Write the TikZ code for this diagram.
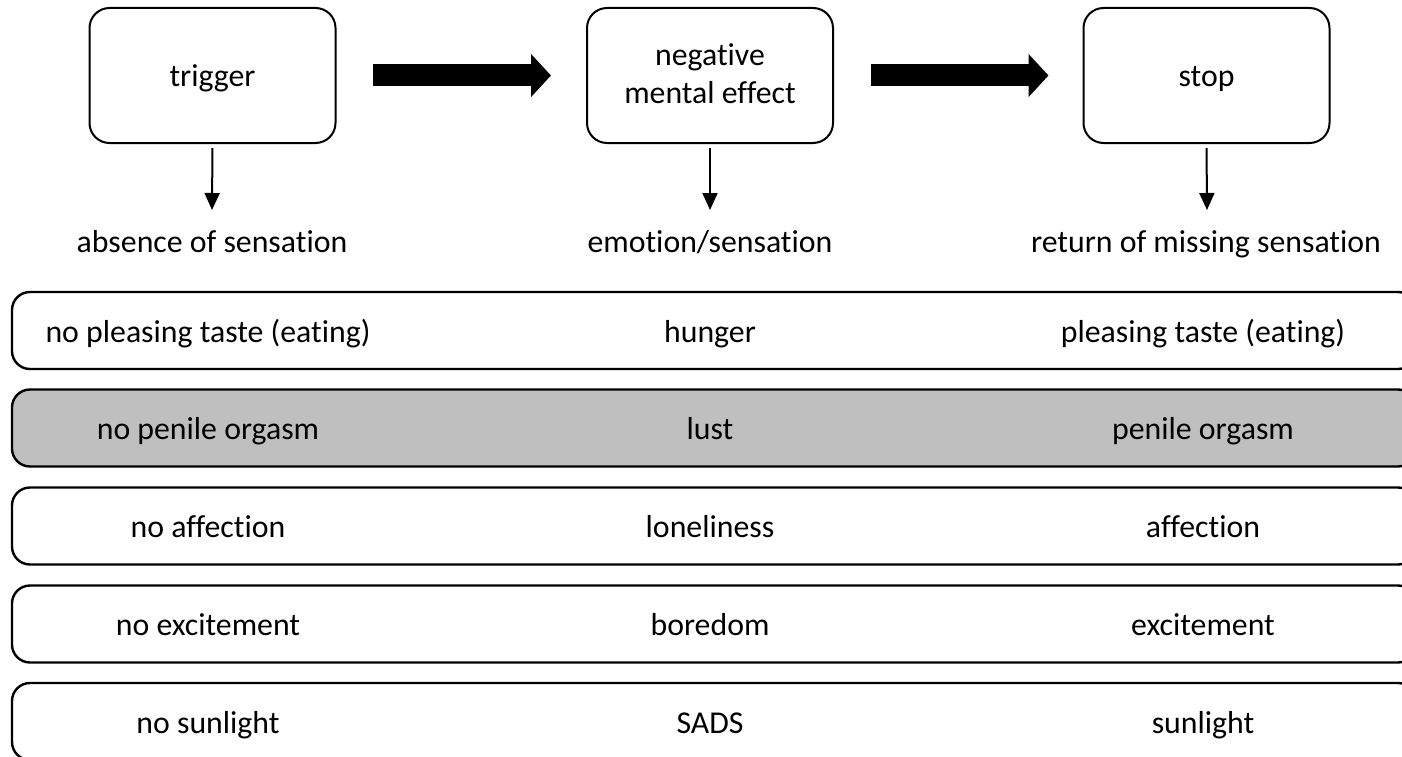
\documentclass[tikz,border=0pt]{standalone}
\usepackage{fontspec}
\setmainfont{Carlito}[Ligatures={NoCommon}]
\usetikzlibrary{arrows.meta}
\definecolor{rowgrey}{RGB}{191,191,191}
\tikzset{
  topbox/.style={draw, line width=2pt, rounded corners=20pt, minimum width=246pt, minimum height=135pt, inner sep=0pt},
  rowbox/.style={draw, line width=2.4pt, rounded corners=18pt, minimum width=1404pt, minimum height=77pt, inner sep=0pt},
  txt/.style={inner sep=0pt, anchor=base, font=\fontsize{31.8pt}{38pt}\selectfont},
  bigarrow/.style={line width=22pt, -{Triangle[width=42pt,length=20pt]}},
  downarrow/.style={line width=2pt, -{Triangle[width=15pt,length=17pt]}},
}
\begin{document}
\begin{tikzpicture}[x=1pt,y=-1pt]
\useasboundingbox (0,0) rectangle (1402,757);
\clip (0,0) rectangle (1402,757);
% top boxes
\node[topbox] (trig) at (212.5,75.5) {};
\node[topbox] (neg) at (710,75.5) {};
\node[topbox] (stop) at (1206.5,75.5) {};
\node[txt] (trigT) at (212.5,87) {trigger};
\node[txt, align=center] (negT) at (710,104) {negative\\mental effect};
\node[txt] (stopT) at (1206.5,87) {stop};
% big arrows
\draw[bigarrow, shorten <=36pt, shorten >=35pt] (trig.east) -- (neg.west);
\draw[bigarrow, shorten <=37pt, shorten >=34pt] (neg.east) -- (stop.west);
% labels
\node[txt] (l1) at (212,252.7) {absence of sensation};
\node[txt] (l2) at (710,252.7) {emotion/sensation};
\node[txt] (l3) at (1206,252.7) {return of missing sensation};
\coordinate (t1) at (212,210);
\coordinate (t2) at (710,210);
\coordinate (t3) at (1207,210);
\draw[downarrow, shorten <=4pt] (trig.south) -- (t1);
\draw[downarrow, shorten <=4pt] (neg.south) -- (t2);
\draw[downarrow, shorten <=4pt] (stop.south) -- (t3);
% rows
\node[rowbox] (r1) at (714,330.5) {};
\node[rowbox, fill=rowgrey] (r2) at (714,428) {};
\node[rowbox] (r3) at (714,526) {};
\node[rowbox] (r4) at (714,624) {};
\node[rowbox] (r5) at (714,721.5) {};
\node[txt] (r1a) at (208,342) {no pleasing taste (eating)};
\node[txt] (r1b) at (710,342) {hunger};
\node[txt] (r1c) at (1203,342) {pleasing taste (eating)};
\node[txt] (r2a) at (208,439.5) {no penile orgasm};
\node[txt] (r2b) at (710,439.5) {lust};
\node[txt] (r2c) at (1203,439.5) {penile orgasm};
\node[txt] (r3a) at (208,537.5) {no affection};
\node[txt] (r3b) at (710,537.5) {loneliness};
\node[txt] (r3c) at (1203,537.5) {affection};
\node[txt] (r4a) at (208,635.5) {no excitement};
\node[txt] (r4b) at (710,635.5) {boredom};
\node[txt] (r4c) at (1203,635.5) {excitement};
\node[txt] (r5a) at (208,733) {no sunlight};
\node[txt] (r5b) at (710,733) {SADS};
\node[txt] (r5c) at (1203,733) {sunlight};
\end{tikzpicture}
\end{document}
